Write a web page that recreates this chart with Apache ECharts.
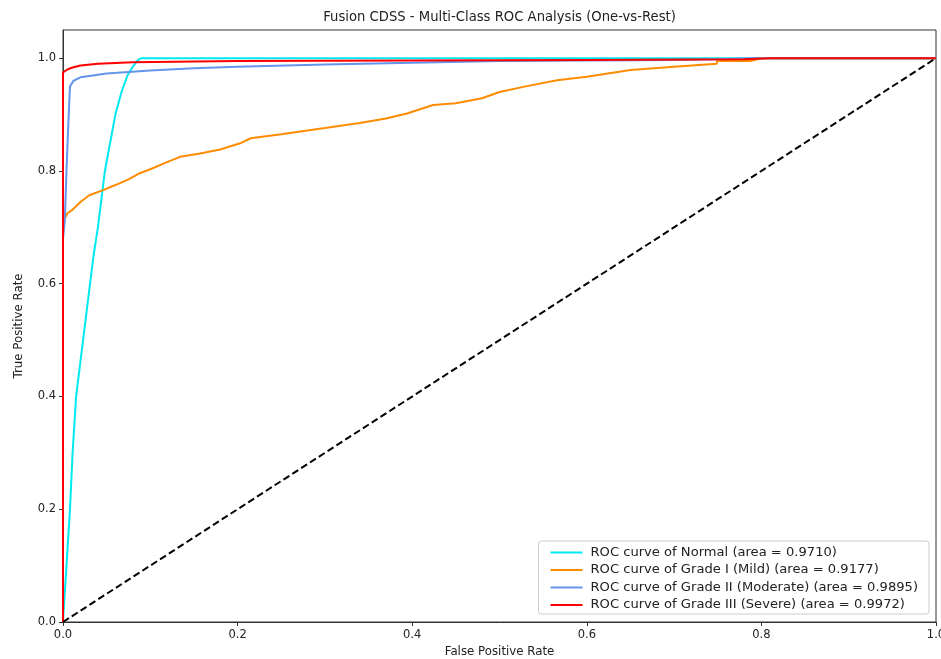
<!DOCTYPE html>
<html>
<head>
<meta charset="utf-8">
<script src="https://cdn.jsdelivr.net/npm/echarts@6/dist/echarts.min.js"></script>
<style>
html,body{margin:0;padding:0;background:#fff;overflow:hidden;}
#chart{width:941px;height:659px;}
</style>
</head>
<body>
<div id="chart"></div>
<script>
// ---- Data ----
const seriesNames = [
  'ROC curve of Normal (area = 0.9710)',
  'ROC curve of Grade I (Mild) (area = 0.9177)',
  'ROC curve of Grade II (Moderate) (area = 0.9895)',
  'ROC curve of Grade III (Severe) (area = 0.9972)'
];

const fprNormal = [0, 0.002, 0.004, 0.006, 0.008, 0.0095, 0.011, 0.013, 0.015, 0.019, 0.023, 0.027, 0.031, 0.035, 0.040, 0.044, 0.048, 0.054, 0.060, 0.067, 0.074, 0.080, 0.086, 0.09, 1.0];
const tprNormal = [0, 0.05, 0.10, 0.15, 0.20, 0.25, 0.30, 0.35, 0.40, 0.45, 0.50, 0.55, 0.60, 0.65, 0.70, 0.75, 0.80, 0.85, 0.90, 0.94, 0.97, 0.985, 0.997, 1.0, 1.0];

const fprMild = [0, 0, 0.002, 0.005, 0.010, 0.020, 0.030, 0.046, 0.060, 0.075, 0.088, 0.100, 0.115, 0.134, 0.157, 0.180, 0.203, 0.215, 0.250, 0.300, 0.340, 0.370, 0.394, 0.424, 0.450, 0.480, 0.500, 0.530, 0.566, 0.600, 0.650, 0.700, 0.749, 0.749, 0.787, 0.800, 1.0];
const tprMild = [0, 0.69, 0.715, 0.725, 0.730, 0.745, 0.757, 0.766, 0.775, 0.785, 0.796, 0.803, 0.813, 0.825, 0.831, 0.838, 0.849, 0.858, 0.865, 0.876, 0.885, 0.893, 0.902, 0.917, 0.920, 0.929, 0.940, 0.950, 0.961, 0.967, 0.979, 0.985, 0.990, 0.995, 0.995, 1.0, 1.0];

const fprModerate = [0, 0, 0.002, 0.004, 0.006, 0.008, 0.012, 0.020, 0.050, 0.100, 0.150, 0.200, 0.300, 0.400, 0.500, 0.600, 0.700, 0.750, 0.790, 1.0];
const tprModerate = [0, 0.68, 0.71, 0.80, 0.88, 0.95, 0.96, 0.966, 0.973, 0.978, 0.982, 0.985, 0.989, 0.992, 0.995, 0.996, 0.997, 0.998, 1.0, 1.0];

const fprSevere = [0, 0, 0.005, 0.010, 0.020, 0.040, 0.080, 0.200, 0.400, 0.600, 0.780, 0.810, 1.0];
const tprSevere = [0, 0.975, 0.980, 0.983, 0.987, 0.990, 0.993, 0.995, 0.996, 0.997, 0.998, 1.0, 1.0];

const chanceX = [0, 1];
const chanceY = [0, 1];

const xTicks = [0, 0.2, 0.4, 0.6, 0.8, 1.0];
const yTicks = [0, 0.2, 0.4, 0.6, 0.8, 1.0];

const colors = ['#00e8f0', '#ff8c00', '#6495ed', '#ff0000'];

// ---- Build chart ----
const pairs = (xs, ys) => xs.map((x, i) => [x, ys[i]]);
const curves = [
  [fprNormal, tprNormal],
  [fprMild, tprMild],
  [fprModerate, tprModerate],
  [fprSevere, tprSevere]
];

const font = 'DejaVu Sans';
const chart = echarts.init(document.getElementById('chart'), null, {renderer: 'canvas'});

const series = curves.map((c, i) => ({
  name: seriesNames[i],
  type: 'line',
  data: pairs(c[0], c[1]),
  symbol: 'none',
  smooth: false,
  lineStyle: {color: colors[i], width: 2},
  itemStyle: {color: colors[i]},
  z: 2 + i
}));
series.push({
  name: 'chance',
  type: 'line',
  data: pairs(chanceX, chanceY),
  symbol: 'none',
  lineStyle: {color: '#000', width: 2, type: [7, 3.5]},
  itemStyle: {color: '#000'},
  z: 10
});

chart.setOption({
  animation: false,
  backgroundColor: '#fff',
  title: {
    text: 'Fusion CDSS - Multi-Class ROC Analysis (One-vs-Rest)',
    left: 499.5,
    top: 11.5,
    padding: 0,
    textAlign: 'center',
    textStyle: {fontFamily: font, fontSize: 13.2, fontWeight: 'normal', color: '#222'}
  },
  legend: {
    data: seriesNames,
    orient: 'vertical',
    right: 12,
    bottom: 45,
    icon: 'rect',
    backgroundColor: '#fff',
    borderColor: '#cccccc',
    borderWidth: 1,
    borderRadius: 3,
    padding: [5, 11, 2.5, 12],
    itemGap: 4.5,
    itemWidth: 32,
    itemHeight: 2,
    textStyle: {fontFamily: font, fontSize: 13.1, lineHeight: 13, color: '#222', padding: [0, 0, 0, 3]}
  },
  grid: {
    left: 63, right: 5, top: 30, bottom: 37,
    outerBoundsMode: 'none',
    show: true, borderColor: '#333', borderWidth: 1, backgroundColor: '#fff'
  },
  xAxis: {
    type: 'value', min: 0, max: 1, interval: 0.2,
    name: 'False Positive Rate', nameLocation: 'middle', nameGap: 21,
    nameTextStyle: {fontFamily: font, fontSize: 11.8, color: '#222'},
    axisLine: {show: true, lineStyle: {color: '#333', width: 1}},
    axisTick: {show: true, inside: false, length: 4, lineStyle: {color: '#333'}},
    axisLabel: {fontFamily: font, fontSize: 11.5, color: '#222', margin: 7,
      formatter: v => v.toFixed(1)},
    splitLine: {show: false}
  },
  yAxis: {
    type: 'value', min: 0, max: 1.05, interval: 0.2,
    name: 'True Positive Rate', nameLocation: 'middle', nameGap: 38,
    nameTextStyle: {fontFamily: font, fontSize: 11.8, color: '#222'},
    axisLine: {show: true, lineStyle: {color: '#333', width: 1}},
    axisTick: {show: true, inside: false, length: 4, lineStyle: {color: '#333'}, customValues: yTicks},
    axisLabel: {fontFamily: font, fontSize: 11.5, color: '#222', margin: 7,
      customValues: yTicks,
      formatter: v => (v > 1.0001 ? '' : v.toFixed(1))},
    splitLine: {show: false}
  },
  series: series
});
</script>
</body>
</html>
